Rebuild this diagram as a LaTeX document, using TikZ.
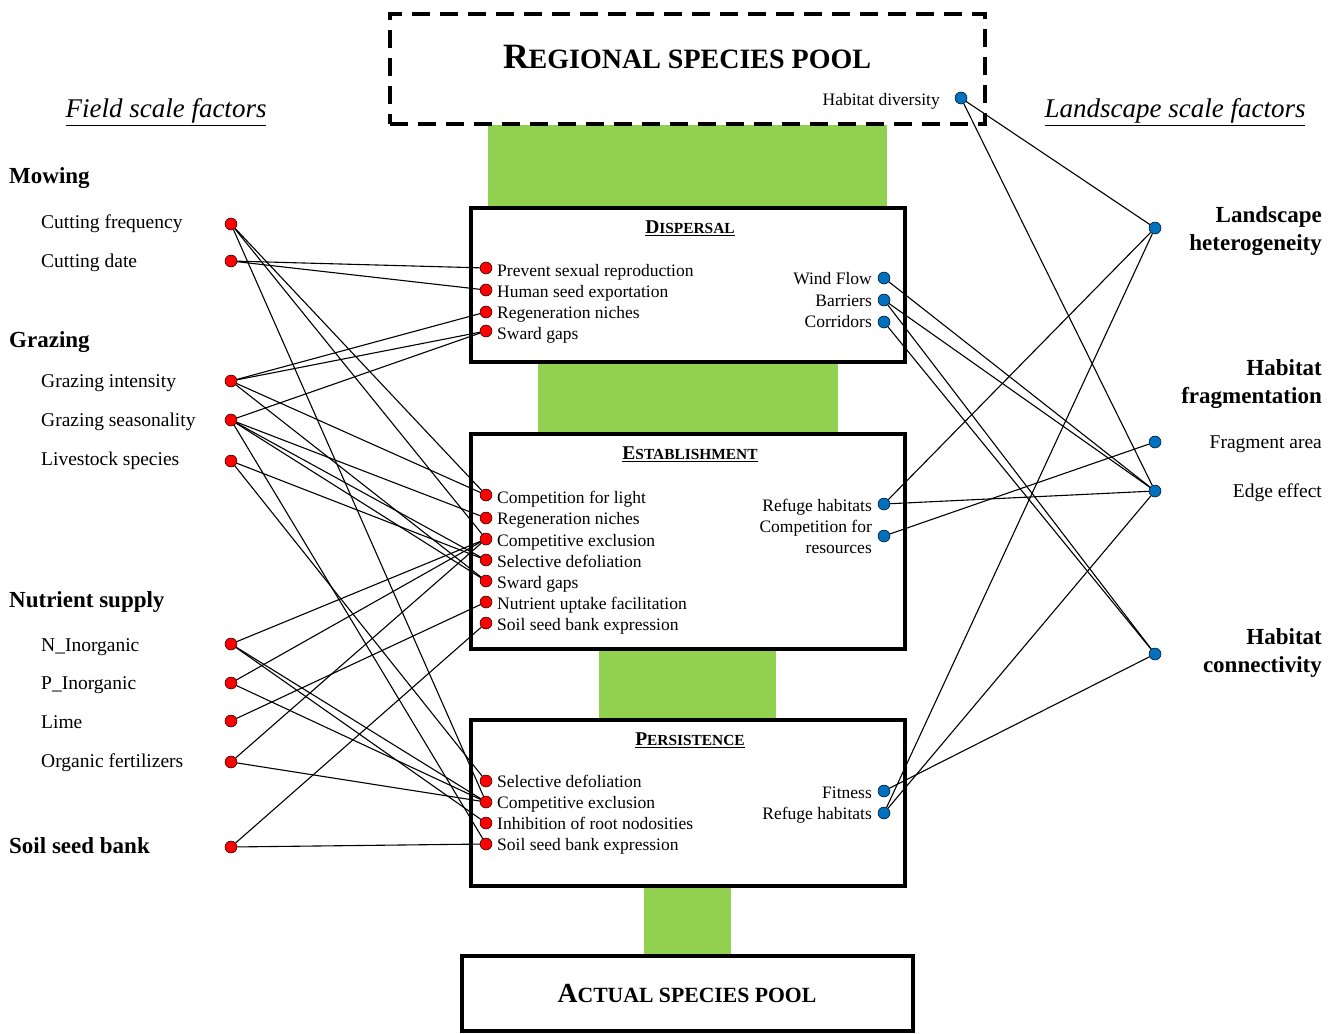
\documentclass[tikz,border=0pt]{standalone}
\usepackage{fontspec}
\setmainfont{Liberation Serif}
\definecolor{grn}{RGB}{146,208,80}
\definecolor{blu}{RGB}{0,112,192}
\newcommand{\mysc}[3]{{\fontsize{#1}{#1}\selectfont #3}}
\begin{document}
\begin{tikzpicture}[x=1pt,y=-1pt,
  lbl/.style={font=\fontsize{19.5}{22}\selectfont, inner sep=0pt, text height=0.68em, text depth=0.2em, yshift=-4.5pt},
  btxt/.style={font=\fontsize{17.5}{21}\selectfont, inner sep=0pt, text height=0.68em, text depth=0.2em, yshift=-4pt},
  hdr/.style={font=\bfseries\fontsize{23}{28}\selectfont, inner sep=0pt, text height=0.68em, text depth=0.2em, yshift=-5pt},
  rhdr/.style={font=\bfseries\fontsize{23}{28}\selectfont, inner sep=0pt, align=right, anchor=east, yshift=-2pt},
  ital/.style={font=\itshape\fontsize{27}{30}\selectfont, inner sep=0pt, yshift=-4pt},
  ttl/.style={font=\bfseries\fontsize{15.4}{18}\selectfont, inner sep=0pt},
  rdot/.style={circle, fill=red, draw=black, line width=0.5pt, inner sep=0pt, minimum size=12pt},
  bdot/.style={circle, fill=blu, draw=black, line width=0.5pt, inner sep=0pt, minimum size=12pt},
  bar/.style={fill=grn, inner sep=0pt, draw=none},
  stage/.style={draw=black, fill=white, line width=4pt, inner sep=0pt},
  conn/.style={line width=1.1pt, black}]
\useasboundingbox (0,0) rectangle (1338,1033);

% green bars
\node[bar, minimum width=399pt, minimum height=84pt] (bar1) at (687.5,167) {};
\node[bar, minimum width=300pt, minimum height=74pt] (bar2) at (688,398) {};
\node[bar, minimum width=177pt, minimum height=73pt] (bar3) at (687.5,684.5) {};
\node[bar, minimum width=87pt, minimum height=72pt] (bar4) at (687.5,921) {};

% regional pool
\node[draw=black, line width=3.5pt, dash pattern=on 18pt off 10pt, minimum width=595pt, minimum height=110pt, inner sep=0pt] (regbox) at (687.5,69) {};
\node[font=\bfseries\fontsize{28}{30}\selectfont, inner sep=0pt] (regt) at (687,57) {\mysc{35.6}{28}{R}EGIONAL SPECIES POOL};
\node[btxt, anchor=east] (thd) at (940,99) {Habitat diversity};
\node[bdot] (HD) at (961,98) {};

% stage boxes
\node[stage, minimum width=434pt, minimum height=154pt] (disp) at (688,285) {};
\node[stage, minimum width=434pt, minimum height=215pt] (estab) at (688,541.5) {};
\node[stage, minimum width=434pt, minimum height=166pt] (pers) at (688,803) {};
\node[stage, minimum width=451pt, minimum height=75pt] (actual) at (687.5,993.5) {};

\node[ttl] (tdisp) at (690,228) {\underline{\mysc{19.5}{15.4}{D}ISPERSAL}};
\node[ttl] (testab) at (690,454) {\underline{\mysc{19.5}{15.4}{E}STABLISHMENT}};
\node[ttl] (tpers) at (690,740) {\underline{\mysc{19.5}{15.4}{P}ERSISTENCE}};
\node[font=\bfseries\fontsize{21.7}{24}\selectfont, inner sep=0pt] (tact) at (687,993) {\mysc{27.6}{21.7}{A}CTUAL SPECIES POOL};

% headings
\node[ital] (fsf) at (166,108) {\underline{Field scale factors}};
\node[ital] (lsf) at (1175,108) {\underline{Landscape scale factors}};

% left labels
\node[hdr, anchor=west] (hMow) at (9,176) {Mowing};
\node[hdr, anchor=west] (hGra) at (9,340) {Grazing};
\node[hdr, anchor=west] (hNut) at (9,600) {Nutrient supply};
\node[hdr, anchor=west] (hSSB) at (9,846) {Soil seed bank};
\node[lbl, anchor=west] (tCF) at (41,222) {Cutting frequency};
\node[lbl, anchor=west] (tCD) at (41,261) {Cutting date};
\node[lbl, anchor=west] (tGI) at (41,381) {Grazing intensity};
\node[lbl, anchor=west] (tGS) at (41,420) {Grazing seasonality};
\node[lbl, anchor=west] (tLS) at (41,459) {Livestock species};
\node[lbl, anchor=west] (tN) at (41,645) {N\_Inorganic};
\node[lbl, anchor=west] (tP) at (41,683) {P\_Inorganic};
\node[lbl, anchor=west] (tLi) at (41,722) {Lime};
\node[lbl, anchor=west] (tOF) at (41,761) {Organic fertilizers};

\node[rdot] (CF) at (231,224) {};
\node[rdot] (CD) at (231,261) {};
\node[rdot] (GI) at (231,381) {};
\node[rdot] (GS) at (231,420) {};
\node[rdot] (LS) at (231,461) {};
\node[rdot] (N) at (231,644) {};
\node[rdot] (P) at (231,683) {};
\node[rdot] (Li) at (231,721) {};
\node[rdot] (OF) at (231,762) {};
\node[rdot] (SSB) at (231,847) {};

% right labels
\node[rhdr] (hLH) at (1322,229) {Landscape\\heterogeneity};
\node[rhdr] (hHF) at (1322,382) {Habitat\\fragmentation};
\node[lbl, anchor=east] (tFA) at (1322,442) {Fragment area};
\node[lbl, anchor=east] (tEE) at (1322,491) {Edge effect};
\node[rhdr] (hHC) at (1322,651) {Habitat\\connectivity};

\node[bdot] (LH) at (1155,228) {};
\node[bdot] (FA) at (1155,442) {};
\node[bdot] (EE) at (1155,491) {};
\node[bdot] (HC) at (1155,654) {};

% dispersal contents
\node[btxt, anchor=west] (tPSR) at (497,270) {Prevent sexual reproduction};
\node[btxt, anchor=west] (tHSE) at (497,291) {Human seed exportation};
\node[btxt, anchor=west] (tRN1) at (497,312) {Regeneration niches};
\node[btxt, anchor=west] (tSG1) at (497,333) {Sward gaps};
\node[btxt, anchor=east] (tWF) at (872,278) {Wind Flow};
\node[btxt, anchor=east] (tBa) at (872,300) {Barriers};
\node[btxt, anchor=east] (tCo) at (872,321) {Corridors};
\node[rdot] (PSR) at (486,268) {};
\node[rdot] (HSE) at (486,290) {};
\node[rdot] (RN1) at (486,312) {};
\node[rdot] (SG1) at (486,331) {};
\node[bdot] (WF) at (884,278) {};
\node[bdot] (Ba) at (884,300) {};
\node[bdot] (Co) at (884,322) {};

% establishment contents
\node[btxt, anchor=west] (tCL) at (497,497) {Competition for light};
\node[btxt, anchor=west] (tRN2) at (497,518) {Regeneration niches};
\node[btxt, anchor=west] (tCE2) at (497,540) {Competitive exclusion};
\node[btxt, anchor=west] (tSD2) at (497,561) {Selective defoliation};
\node[btxt, anchor=west] (tSG2) at (497,582) {Sward gaps};
\node[btxt, anchor=west] (tNUF) at (497,603) {Nutrient uptake facilitation};
\node[btxt, anchor=west] (tSB2) at (497,624) {Soil seed bank expression};
\node[btxt, anchor=east] (tRH2) at (872,505) {Refuge habitats};
\node[font=\fontsize{17.5}{21}\selectfont, inner sep=0pt, align=right, anchor=east] (tCR) at (872,537) {Competition for\\resources};
\node[rdot] (CL) at (486,495) {};
\node[rdot] (RN2) at (486,518) {};
\node[rdot] (CE2) at (486,539) {};
\node[rdot] (SD2) at (486,560) {};
\node[rdot] (SG2) at (486,581) {};
\node[rdot] (NUF) at (486,602) {};
\node[rdot] (SB2) at (486,623) {};
\node[bdot] (RH2) at (884,504) {};
\node[bdot] (CR) at (884,536) {};

% persistence contents
\node[btxt, anchor=west] (tSD3) at (497,781) {Selective defoliation};
\node[btxt, anchor=west] (tCE3) at (497,802) {Competitive exclusion};
\node[btxt, anchor=west] (tIRN) at (497,823) {Inhibition of root nodosities};
\node[btxt, anchor=west] (tSB3) at (497,844) {Soil seed bank expression};
\node[btxt, anchor=east] (tFit) at (872,792) {Fitness};
\node[btxt, anchor=east] (tRH3) at (872,813) {Refuge habitats};
\node[rdot] (SD3) at (486,781) {};
\node[rdot] (CE3) at (486,802) {};
\node[rdot] (IRN) at (486,823) {};
\node[rdot] (SB3) at (486,844) {};
\node[bdot] (Fit) at (884,791) {};
\node[bdot] (RH3) at (884,813) {};

% left connectors
\draw[conn] (CF) -- (CL);
\draw[conn] (CF) -- (CE2);
\draw[conn] (CF) -- (CE3);
\draw[conn] (CD) -- (PSR);
\draw[conn] (CD) -- (HSE);
\draw[conn] (GI) -- (RN1);
\draw[conn] (GI) -- (SG1);
\draw[conn] (GI) -- (CL);
\draw[conn] (GI) -- (SG2);
\draw[conn] (GS) -- (SG1);
\draw[conn] (GS) -- (RN2);
\draw[conn] (GS) -- (SD2);
\draw[conn] (GS) -- (SG2);
\draw[conn] (GS) -- (SB3);
\draw[conn] (LS) -- (SD2);
\draw[conn] (LS) -- (SD3);
\draw[conn] (N) -- (CE2);
\draw[conn] (N) -- (CE3);
\draw[conn] (N) -- (IRN);
\draw[conn] (P) -- (CE2);
\draw[conn] (P) -- (CE3);
\draw[conn] (Li) -- (NUF);
\draw[conn] (OF) -- (CE2);
\draw[conn] (OF) -- (CE3);
\draw[conn] (SSB) -- (SB2);
\draw[conn] (SSB) -- (SB3);

% right connectors
\draw[conn] (HD) -- (LH);
\draw[conn] (HD) -- (EE);
\draw[conn] (LH) -- (RH2);
\draw[conn] (LH) -- (RH3);
\draw[conn] (RH2) -- (EE);
\draw[conn] (CR) -- (FA);
\draw[conn] (WF) -- (EE);
\draw[conn] (Ba) -- (EE);
\draw[conn] (Ba) -- (HC);
\draw[conn] (Co) -- (HC);
\draw[conn] (HC) -- (Fit);
\draw[conn] (EE) -- (RH3);
\end{tikzpicture}
\end{document}
